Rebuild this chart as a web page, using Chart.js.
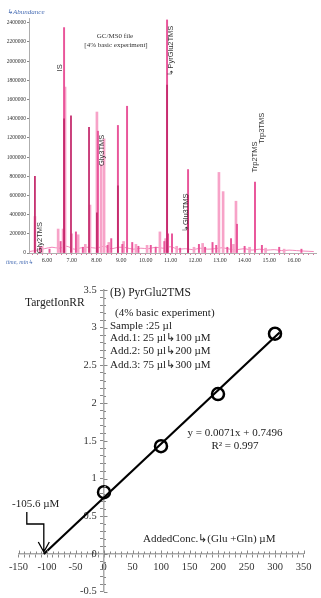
<!DOCTYPE html>
<html><head><meta charset="utf-8">
<script src="https://cdn.jsdelivr.net/npm/chart.js@4/dist/chart.umd.min.js"></script>
<style>
html,body{margin:0;padding:0;background:#fff;}
#wrap{position:relative;width:321px;height:598px;overflow:hidden;background:#fff;}
.box{position:absolute;left:0;}
</style></head><body>
<div id="wrap">
<div class="box" style="top:0;width:321px;height:268px"><canvas id="c1" width="321" height="268"></canvas></div>
<div class="box" style="top:270px;width:321px;height:332px"><canvas id="c2" width="321" height="332"></canvas></div>
</div>
<script>
// ===== Top: GC/MS chromatogram =====
const chromTimeTicks = [6,7,8,9,10,11,12,13,14,15,16];
const abundanceTicks = [0,200000,400000,600000,800000,1000000,1200000,1400000,1600000,1800000,2000000,2200000,2400000];

const lightPeakTimes   = [5.51,5.80,6.45,6.65,6.73,7.00,7.26,7.55,7.74,8.02,8.19,8.31,8.50,9.10,9.60,10.05,10.57,10.80,11.25,11.95,12.30,12.96,13.13,13.55,13.65,14.20,14.85,15.60];
const lightPeakHeights = [380000,70000,250000,250000,1730000,200000,190000,90000,500000,1470000,920000,1190000,110000,120000,90000,80000,220000,150000,70000,60000,100000,840000,640000,90000,540000,60000,50000,40000];

const pinkPeakTimes   = [5.72,6.10,6.55,6.69,7.17,7.45,8.06,8.45,8.60,8.87,9.05,9.24,9.45,9.70,10.20,10.40,10.75,10.86,10.90,11.06,11.39,11.71,12.15,12.40,12.70,12.85,13.30,13.45,13.69,14.00,14.42,14.70,15.40,16.30];
const pinkPeakHeights = [60000,40000,120000,2350000,220000,60000,1270000,80000,150000,1330000,90000,1530000,110000,70000,80000,60000,120000,2430000,200000,200000,50000,870000,90000,60000,110000,80000,60000,150000,300000,70000,740000,80000,60000,40000];

const darkPeakTimes   = [5.51,6.69,6.97,7.70,8.02,8.87,10.86,11.71];
const darkPeakHeights = [800000,1400000,1430000,1310000,420000,700000,1750000,600000];

const baselineTimes  = [5.30,5.60,5.90,6.20,6.50,6.80,7.10,7.40,7.70,8.00,8.30,8.60,8.90,9.20,9.50,9.80,10.10,10.40,10.70,11.00,11.30,11.60,11.90,12.20,12.50,12.80,13.10,13.40,13.70,14.00,14.30,14.60,14.90,15.20,15.50,15.80,16.10,16.40,16.80];
const baselineLevels = [15000,30000,45000,60000,50000,70000,40000,55000,60000,50000,70000,45000,60000,55000,40000,50000,45000,60000,50000,65000,40000,45000,35000,50000,40000,45000,55000,40000,35000,45000,30000,40000,30000,35000,25000,30000,25000,20000,15000];

const peakLabelNames  = ['Gly2TMS','IS','Gly3TMS','\u21b3PyrGlu2TMS','\u21b3Glu3TMS','Trp2TMS','Trp3TMS'];
const peakLabelTimes  = [5.72,6.53,8.23,11.02,11.63,14.42,14.72];
const peakLabelLevels = [160000,1930000,1070000,2110000,420000,1000000,1300000];

const toXY = (ts, vs) => ts.map((t,i)=>({x:t,y:vs[i]}));

const topText = {
  id:'topText',
  afterDraw(chart){
    const {ctx, scales:{x,y}} = chart;
    ctx.save();
    ctx.fillStyle = '#4a6fb5';
    ctx.textBaseline = 'middle';
    ctx.textAlign = 'left';
    ctx.font = 'italic 7px "Liberation Serif"';
    ctx.fillText('\u21b3Abundance', 7, 12);
    ctx.font = 'italic 6px "Liberation Serif"';
    ctx.fillText('time, min\u21b3', 6, 262);
    ctx.fillStyle = '#333';
    ctx.textAlign = 'center';
    ctx.font = '7px "Liberation Serif"';
    ctx.fillText('GC/MS0 file', 115, 36);
    ctx.fillText('[4% basic experiment]', 116, 45);
    ctx.font = '7.5px "Liberation Sans"';
    peakLabelNames.forEach((n,i)=>{
      ctx.save();
      ctx.translate(x.getPixelForValue(peakLabelTimes[i]), y.getPixelForValue(peakLabelLevels[i]));
      ctx.rotate(-Math.PI/2);
      ctx.fillText(n, 0, 0);
      ctx.restore();
    });
    ctx.restore();
  }
};

new Chart(document.getElementById('c1'), {
  type:'bar',
  data:{datasets:[
    {type:'line', data:toXY(baselineTimes, baselineLevels), borderColor:'#f06aa8', borderWidth:0.8, pointRadius:0, tension:0.3, order:4},
    {data:toXY(lightPeakTimes, lightPeakHeights), backgroundColor:'#f7a3c8', barThickness:2, order:3},
    {data:toXY(pinkPeakTimes, pinkPeakHeights), backgroundColor:'#e9559a', barThickness:1.3, order:2},
    {data:toXY(darkPeakTimes, darkPeakHeights), backgroundColor:'#c42a6c', barThickness:1.1, order:1}
  ]},
  options:{
    responsive:false, animation:false,
    datasets:{bar:{grouped:false}},
    layout:{padding:{top:18,right:5,left:0,bottom:0}},
    plugins:{legend:{display:false}, tooltip:{enabled:false}},
    scales:{
      x:{type:'linear', min:5.27, max:16.89, offset:false,
        afterBuildTicks:s=>{const t=[];for(let k=27;k<=84;k++){t.push({value:k/5});} s.ticks=t;},
        afterFit:s=>{s.height=15;},
        ticks:{autoSkip:false, maxRotation:0, padding:2, color:'#333',
          font:{family:'Liberation Serif', size:6},
          callback:v=>chromTimeTicks.includes(v)? v.toFixed(2):''},
        grid:{display:true, drawOnChartArea:false, offset:false, tickLength:2, tickColor:'#e06aa0'},
        border:{color:'#999', width:0.8}},
      y:{min:0, max:2450000,
        afterBuildTicks:s=>{s.ticks=abundanceTicks.map(v=>({value:v}));},
        afterFit:s=>{s.width=29;},
        ticks:{padding:1, color:'#333', font:{family:'Liberation Serif', size:5.5}, callback:v=>String(v)},
        grid:{drawOnChartArea:false, tickLength:2, tickColor:'#888'},
        border:{color:'#999', width:0.8}}
    }
  },
  plugins:[topText]
});

// ===== Bottom: standard addition plot =====
const addedConc   = [0,100,200,300];
const targetIonRR = [0.82,1.43,2.12,2.92];
const fitSlope = 0.0071, fitIntercept = 0.7496, xIntercept = -105.6, fitLineEnd = 308;
const concTicks = [-150,-100,-50,0,50,100,150,200,250,300,350];
const rrTicks   = [-0.5,0,0.5,1,1.5,2,2.5,3,3.5];

const bottomText = {
  id:'bottomText',
  afterDraw(chart){
    const {ctx, scales:{x,y}} = chart;
    const x0 = x.getPixelForValue(0), y0 = y.getPixelForValue(0);
    ctx.save();
    // opposite-side tick marks
    ctx.strokeStyle = '#888'; ctx.lineWidth = 1;
    x.ticks.forEach(t=>{
      const p = Math.round(x.getPixelForValue(t.value))+0.5;
      const len = concTicks.includes(t.value)?3.5:2.5;
      ctx.beginPath(); ctx.moveTo(p, y0-len); ctx.lineTo(p, y0); ctx.stroke();
    });
    y.ticks.forEach(t=>{
      const p = Math.round(y.getPixelForValue(t.value))+0.5;
      const len = rrTicks.includes(t.value)?3.5:2;
      ctx.beginPath(); ctx.moveTo(x0, p); ctx.lineTo(x0+len, p); ctx.stroke();
    });
    // arrow to x-intercept
    const tx = x.getPixelForValue(xIntercept), ty = y0-2;
    ctx.strokeStyle = '#000'; ctx.lineWidth = 1.3;
    ctx.beginPath();
    ctx.moveTo(tx-17, ty-40); ctx.lineTo(tx-17, ty-28); ctx.lineTo(tx, ty-28); ctx.lineTo(tx, ty);
    ctx.moveTo(tx-5.5, ty-10); ctx.lineTo(tx, ty); ctx.lineTo(tx+5.5, ty-10);
    ctx.stroke();
    ctx.fillStyle = '#222';
    ctx.textBaseline = 'middle'; ctx.textAlign = 'left';
    ctx.font = '11px "Liberation Serif"';
    ctx.fillText('-105.6 \u00b5M', 12, ty-48);
    // texts
    ctx.font = '11.5px "Liberation Serif"';
    ctx.fillText('TargetIonRR', 25, 33);
    ctx.fillText('(B) PyrGlu2TMS', 110, 23);
    ctx.font = '11px "Liberation Serif"';
    ctx.fillText('(4% basic experiment)', 115, 43);
    ctx.fillText('Sample :25 \u00b5l', 110, 56);
    ctx.fillText('Add.1: 25 \u00b5l\u21b3100 \u00b5M', 110, 68);
    ctx.fillText('Add.2: 50 \u00b5l\u21b3200 \u00b5M', 110, 81);
    ctx.fillText('Add.3: 75 \u00b5l\u21b3300 \u00b5M', 110, 95);
    ctx.fillText('AddedConc.\u21b3(Glu +Gln) \u00b5M', 143, 269);
    ctx.textAlign = 'center';
    ctx.fillText('y = 0.0071x + 0.7496', 235, 163);
    ctx.fillText('R\u00b2 = 0.997', 235, 176);
    ctx.restore();
  }
};

new Chart(document.getElementById('c2'), {
  type:'scatter',
  data:{datasets:[
    {type:'line', data:[{x:xIntercept,y:0},{x:fitLineEnd,y:fitSlope*fitLineEnd+fitIntercept}],
      borderColor:'#000', borderWidth:2.2, pointRadius:0, order:2},
    {data:addedConc.map((c,i)=>({x:c,y:targetIonRR[i]})), pointRadius:6, pointBorderWidth:2.5,
      pointBorderColor:'#000', pointBackgroundColor:'rgba(0,0,0,0)', order:1}
  ]},
  options:{
    responsive:false, animation:false,
    layout:{padding:{left:18.5,right:17.5,top:20,bottom:4}},
    plugins:{legend:{display:false}, tooltip:{enabled:false}},
    scales:{
      x:{type:'linear', min:-150, max:350, position:{y:0},
        afterBuildTicks:s=>{const t=[];for(let v=-150;v<=350;v+=10){t.push({value:v});} s.ticks=t;},
        ticks:{autoSkip:false, maxRotation:0, padding:4, color:'#333',
          font:{family:'Liberation Serif', size:10.5},
          callback:v=>concTicks.includes(v)? String(v):''},
        grid:{drawOnChartArea:false, tickLength:3, tickColor:'#888'},
        border:{color:'#aaa', width:1.5}},
      y:{type:'linear', min:-0.5, max:3.5, position:{x:0},
        afterBuildTicks:s=>{const t=[];for(let k=-5;k<=35;k++){t.push({value:k/10});} s.ticks=t;},
        ticks:{autoSkip:false, padding:4, color:'#333',
          font:{family:'Liberation Serif', size:10.5},
          callback:v=>rrTicks.includes(v)? String(v)+'\u2002\u2009':''},
        grid:{drawOnChartArea:false, tickLength:3, tickColor:'#888'},
        border:{color:'#aaa', width:1.5}}
    }
  },
  plugins:[bottomText]
});
</script>
</body></html>
